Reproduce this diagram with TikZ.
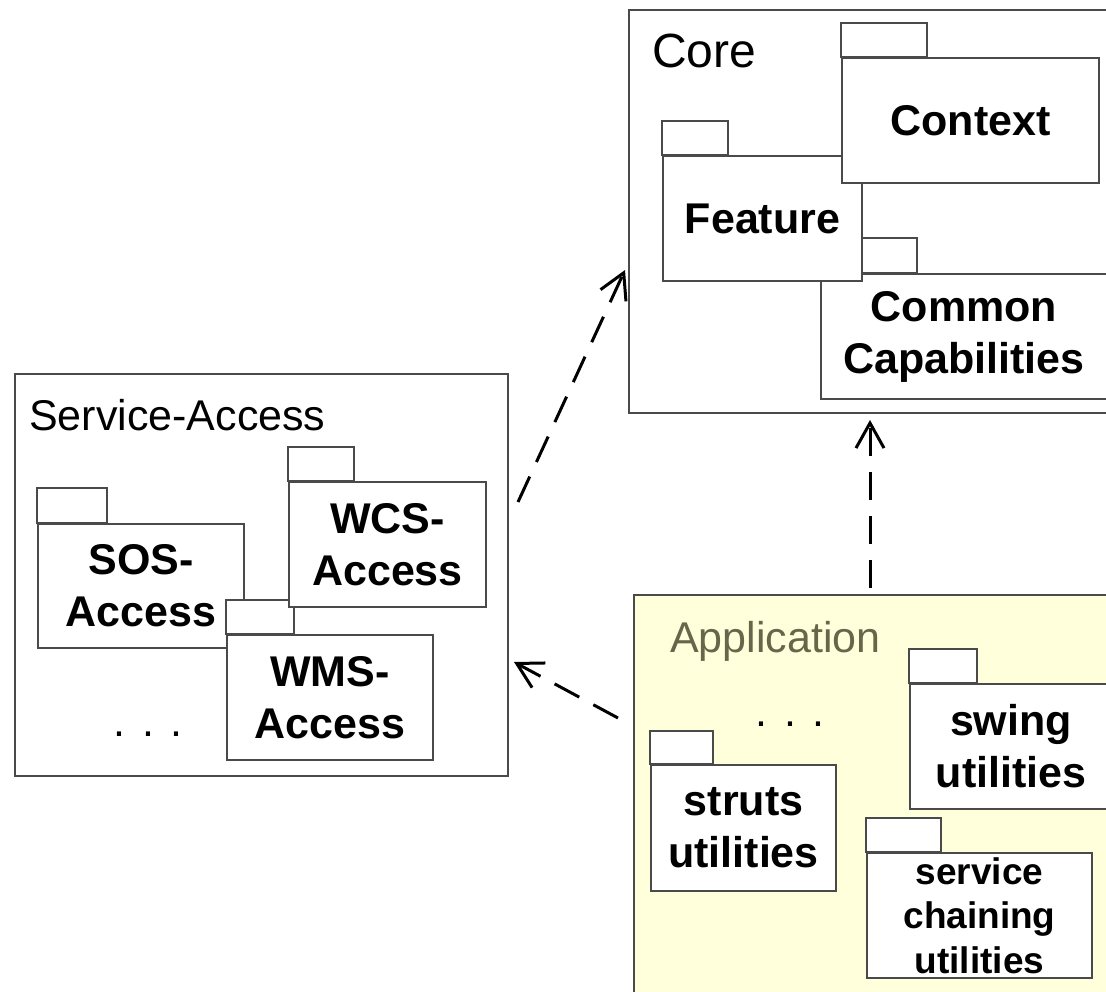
\documentclass[tikz,border=0pt]{standalone}
\usepackage{fontspec}
\setmainfont{Liberation Sans}
\usetikzlibrary{arrows.meta,calc}
\definecolor{appfill}{HTML}{FFFFDC}
\definecolor{apptext}{HTML}{66664A}
\definecolor{frame}{HTML}{4A4A4A}
\begin{document}
\begin{tikzpicture}[x=1pt,y=-1pt,
  box/.style={draw=frame, line width=2pt, rectangle, anchor=north west, inner sep=0pt},
  pkg/.style={draw=frame, line width=2pt, fill=white, rectangle, anchor=north west, inner sep=0pt, align=center, font=\bfseries\fontsize{43}{52}\selectfont},
  tab/.style={draw=frame, line width=2pt, fill=white},
  dep/.style={dash pattern=on 28pt off 16pt, line width=3pt, -{Straight Barb[length=25pt,width=28pt,line width=3pt]}},
  title/.style={anchor=base west, inner sep=0pt, font=\fontsize{43}{52}\selectfont},
  dots/.style={anchor=base, inner sep=0pt, font=\fontsize{43}{52}\selectfont}]
\useasboundingbox (0,0) rectangle (1106,992);
\clip (0,0) rectangle (1106,992);

% ---- Core ----
\node[box, minimum width=500pt, minimum height=403pt] (core) at (628,9) {};
\node[title, font=\fontsize{48}{56}\selectfont] (coret) at (652,68) {Core};
\node[pkg, minimum width=300pt, minimum height=125pt] (cc) at (820,273) {Common\hspace*{14pt}\\Capabilities\hspace*{14pt}};
\draw[tab] (cc.north west) rectangle ++(97,-35);
\node[pkg, minimum width=199pt, minimum height=125pt] (feat) at (662,155) {Feature};
\draw[tab] (feat.north west) rectangle ++(66,-34);
\node[pkg, minimum width=257pt, minimum height=125pt] (ctx) at (841,57) {Context};
\draw[tab] (ctx.north west) rectangle ++(86,-34);

% ---- Service-Access ----
\node[box, minimum width=493pt, minimum height=402pt] (sa) at (14,373) {};
\node[title] (sat) at (29,430) {Service-Access};
\node[pkg, minimum width=206pt, minimum height=124pt] (sos) at (37,523) {SOS-\\Access};
\draw[tab] (sos.north west) rectangle ++(70,-35);
\node[pkg, minimum width=206pt, minimum height=125pt] (wms) at (226,634) {WMS-\\Access};
\draw[tab] (wms.north west) rectangle ++(68,-34);
\node[pkg, minimum width=197pt, minimum height=125pt] (wcs) at (288,481) {WCS-\\Access};
\draw[tab] (wcs.north west) rectangle ++(66,-34);
\node[dots] (sadots) at (148,736) {.\hspace{17pt}.\hspace{17pt}.};

% ---- Application ----
\node[box, fill=appfill, minimum width=500pt, minimum height=420pt] (app) at (633,594) {};
\node[title, text=apptext] (appt) at (670,652) {Application};
\node[dots] (appdots) at (790,726) {.\hspace{17pt}.\hspace{17pt}.};
\node[pkg, minimum width=185pt, minimum height=126pt] (struts) at (650,764) {struts\\utilities};
\draw[tab] (struts.north west) rectangle ++(63,-33);
\node[pkg, minimum width=202pt, minimum height=125pt] (swing) at (909,683) {swing\\utilities};
\draw[tab] (swing.north west) rectangle ++(68,-34);
\node[pkg, minimum width=225pt, minimum height=125pt, font=\bfseries\fontsize{37}{44.5}\selectfont] (chain) at (866,852) {service\\chaining\\utilities};
\draw[tab] (chain.north west) rectangle ++(75,-34);

% ---- dependencies ----
\draw[dep] ($(sa.north east)+(9,129)$) -- ($(core.north west)+(-3,261)$);
\draw[dep] ($(app.north west)+(-15,124)$) -- ($(sa.north east)+(5,289)$);
\draw[dep] ($(app.north west)+(237,-6)$) -- ($(core.south west)+(242,6)$);
\end{tikzpicture}
\end{document}
